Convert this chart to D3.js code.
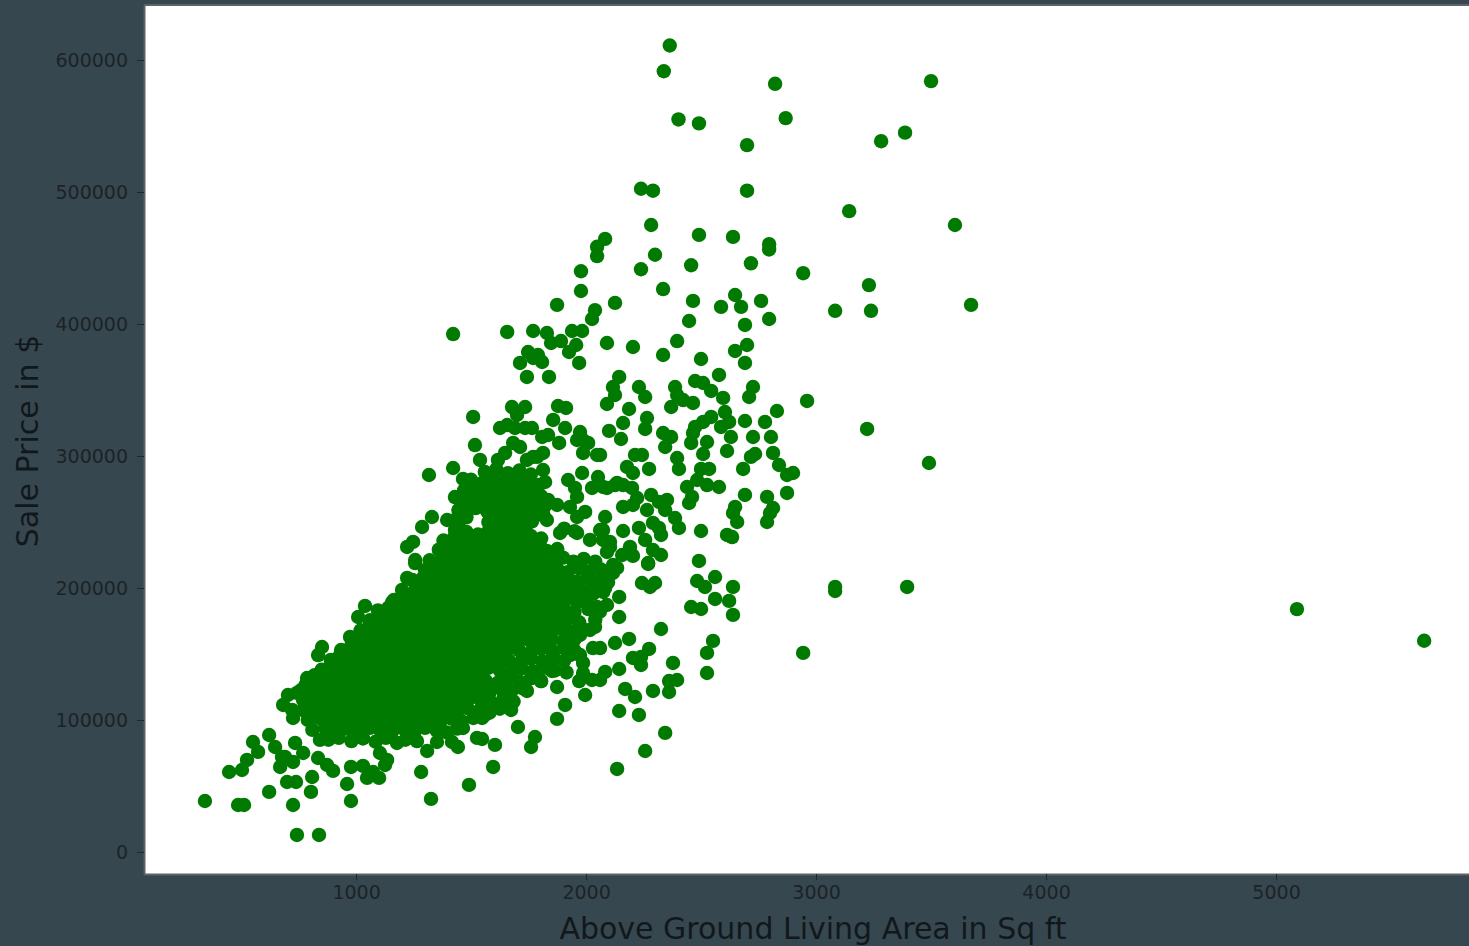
<!DOCTYPE html>
<html>
<head>
<meta charset="utf-8">
<script src="https://cdnjs.cloudflare.com/ajax/libs/d3/7.8.5/d3.min.js"></script>
<style>
    html, body { margin: 0; padding: 0; background: #37474f; overflow: hidden; }
    svg { display: block; }
</style>
</head>
<body>
<svg id="chart" width="1469" height="946"></svg>
<script>
const xTicks = [1000, 2000, 3000, 4000, 5000];
const yTicks = [0, 100000, 200000, 300000, 400000, 500000, 600000];

// [living area, sale price], grouped by region
const topPoints = [[2364,611000],[2338,591500],[3500,584000],[2822,582000],[2868,556000],[2402,555000],[2491,552000],[3387,545000],[3283,538500],[2700,535500],[2239,502500],[2291,501000],[2700,501000],[3144,485500],[2283,475000],[3604,475000],[2083,464500],[2048,458500],[2048,451500],[2491,467500],[2639,466000],[2796,460500],[2796,456500],[2300,452500],[2717,446000],[2457,444500],[2239,441500],[1978,440000],[2944,438500],[3230,429500],[1978,425000],[2335,426500],[1874,414500],[2126,416000],[2465,417500],[2648,422000],[2761,417500],[2587,413000],[2674,413000],[3674,414500],[3083,410000],[3239,410000]];

const farPoints = [[5091,184000],[5644,160000],[3083,200800],[3083,197700],[3396,200800],[3222,320500],[3491,294700],[2944,150800]];

const upperBand = [[2039,410500],[2026,403800],[2448,402300],[1422,392400],[1657,394000],[1770,394700],[1830,393200],[1848,385600],[1891,387100],[1939,394700],[1983,394700],[1957,384100],[1926,378800],[1970,370500],[2091,385600],[2204,382600],[2335,376500],[2396,387100],[2500,373500],[2691,399300],[2796,403800],[2700,384100],[2648,379600],[2691,370500],[1748,378800],[1713,370500],[1770,374300],[1809,371200],[1743,359900],[1839,359900],[1791,376500],[2578,361400],[2144,359900],[2117,352300],[2126,346200],[2091,339400],[2230,352300],[2257,344700],[2187,335600],[2387,352300],[2396,346200],[2370,337100],[2422,342400],[2465,340200],[2474,356800],[2509,355300],[2544,349300],[2596,344000],[2726,352300],[2709,344700],[2830,334100],[2961,341700]];

const midRight = [[2604,333300],[2622,325800],[2587,322000],[2544,329600],[2509,325800],[2474,322000],[2465,317400],[2457,309900],[2526,310600],[2509,301500],[2630,314400],[2613,303800],[2691,326500],[2778,325800],[2726,314400],[2804,314400],[2813,302300],[2735,301500],[2717,299300],[2839,293200],[2683,290200],[2900,287100],[2874,285600],[2874,272000],[2691,270500],[2787,269000],[2813,260600],[2800,256800],[2787,250000],[2648,261400],[2639,256800],[2657,250000],[2613,240200],[2635,238600],[2500,243200],[2491,220500],[2161,325000],[2100,319000],[2152,312900],[2265,328800],[2257,320500],[2335,317400],[2370,314400],[2344,306800],[2396,298500],[2404,290200],[2061,300800],[2213,300800],[2243,300800],[2178,291700],[2204,287100],[2274,290200],[2500,290200],[2535,290200],[2439,276500],[2483,281800],[2526,278000],[2578,276500],[2461,269000],[2448,264400],[2126,278000],[2074,276500],[2161,278000],[2200,275800],[2222,268200],[2161,261400],[2204,262900],[2265,259100],[2283,270500],[2317,265200],[2352,266700],[2344,259100],[2387,253000],[2404,245500],[2291,249300],[2317,245500],[2326,240200],[2161,243200],[2230,245500],[2257,236400],[2291,228800],[2326,225000],[2270,218900],[2187,227300],[2157,225000],[2204,224300],[2083,253800],[2104,234900],[2091,227300],[2074,243900],[2117,217400],[2200,225000],[2191,231100]];

const lowerRight = [[2561,208300],[2483,205300],[2517,200800],[2639,200800],[2561,191700],[2622,190200],[2457,185600],[2500,184100],[2639,179600],[2552,159900],[2526,150800],[2526,135600],[2326,168900],[2187,161400],[2126,158300],[2274,153800],[2204,147000],[2239,147700],[2239,141700],[2378,143200],[2144,138600],[2083,136400],[2170,123500],[2213,117400],[2291,122000],[2361,129500],[2396,130300],[2361,121200],[2144,106800],[2230,103800],[2344,90200],[2257,76500],[2135,62900],[1996,118900],[1909,111400],[1874,100800],[1704,94700],[1778,87100],[1761,79500],[1604,81100],[1596,64400],[1548,85600],[1674,107600],[1561,103800],[1874,125000],[1743,122000],[1804,129500],[1852,137100],[1970,129500],[2026,130300],[2061,130300],[1987,135600],[1987,143200],[2030,154500],[2061,154500],[1930,149200],[1974,149200],[1922,162100],[1974,164400],[2039,170500],[2017,168200],[2144,178000],[2144,193200],[2091,187100],[2048,185600],[2030,195500],[2000,189400],[1952,190900],[1874,178000],[1930,178000],[1830,169700],[1843,155300],[1852,147000],[2243,203800],[2278,200800],[2300,203800],[2270,218200],[2096,204500],[2083,200000],[2117,211400],[2135,215200]];

const lowTail = [[343,38600],[487,35600],[513,35600],[448,60600],[504,62100],[526,69700],[574,75800],[552,83300],[622,88600],[648,79500],[670,64400],[691,72000],[726,68200],[622,45500],[700,53000],[739,53000],[804,45500],[809,56800],[726,35600],[743,12900],[839,12900],[961,51500],[978,38600],[978,64400],[1030,65200],[1048,56100],[1100,56100],[1074,60600],[1126,65900],[1104,75000],[1178,82600],[1135,69700],[1283,60600],[1326,40200],[1491,50800],[1526,86400],[1443,79500],[1417,83300],[1309,76500],[1352,83300],[1235,92400],[1465,93900],[1548,101500],[1561,105300],[900,61400],[874,65900],[835,71200],[678,72000],[735,82600],[770,75000],[843,84900],[726,101500],[722,107600],[683,111400],[704,118900],[743,120500],[787,131800],[852,155300],[835,149200],[974,162900],[1009,178000],[1039,186400],[1157,189400],[1222,207600],[1257,218900]];

const coreEdge = [[1317,285600],[1422,290900],[1465,282600],[1517,308300],[1539,297000],[1430,268900],[1496,260600],[1330,253800],[1396,251500],[1287,246200],[1248,234900],[1222,231100],[1257,221200],[1400,230300],[1509,329600],[1678,337100],[1735,337100],[1700,331100],[1878,337900],[1913,336400],[1857,327300],[1909,321200],[1626,321200],[1657,323500],[1691,321200],[1735,321200],[1765,321200],[1683,309900],[1713,306800],[1809,314400],[1835,315900],[1883,309900],[1813,302300],[1770,299300],[1743,297000],[1648,302300],[1617,297000],[1974,318200],[1987,312100],[2009,309900],[1987,302300],[2048,300800],[1961,312100],[1983,287100],[1922,281800],[2052,284100],[2026,275800],[2091,275800],[2135,279600],[1952,275800],[1961,269000],[1930,261400],[1996,257600],[1961,253800],[2061,243900],[1822,280300],[1813,289400],[1787,299300],[1835,266700],[1874,262900],[1813,256800],[1830,251500],[1887,241700],[1961,241700],[2017,236400],[2074,236400],[2104,231100]];

const coreTop = [[1560,288000],[1610,290000],[1660,287000],[1710,289000],[1760,286000],[1590,278000],[1640,278500],[1690,277500],[1745,275500],[1795,278000],[1500,271000],[1550,270000],[1600,270500],[1650,271500],[1700,270000],[1750,270500],[1805,269500],[1480,262500],[1520,263000],[1570,263500],[1620,262500],[1665,263000],[1715,262500],[1765,263000],[1820,262000],[1450,255000],[1600,255000],[1645,255500],[1695,254500],[1745,255000],[1790,255500],[1445,248000],[1600,247500],[1650,247000],[1695,248000],[1740,247500]];

const coreUpper = [[1500,282000],[1548,279500],[1600,284000],[1650,281000],[1700,283500],[1745,280000],[1470,274000],[1525,276000],[1570,272500],[1625,275000],[1672,273500],[1720,276500],[1770,272000],[1450,267000],[1495,265000],[1545,268500],[1590,266000],[1640,269000],[1690,265500],[1735,267500],[1785,264500],[1445,259000],[1470,257500],[1520,260500],[1570,258000],[1615,260000],[1665,257000],[1710,259500],[1760,256500],[1800,260000],[1430,251500],[1480,253500],[1575,250000],[1625,252000],[1670,249500],[1720,253000],[1765,250500],[1430,244000],[1480,242500],[1575,243000],[1620,246000],[1670,242000],[1715,244500],[1905,245000],[1950,243000],[1380,236000],[1425,238000],[1470,234500],[1520,237000],[1570,235000],[1615,238500],[1665,234000],[1710,236500],[1760,235000],[1805,237500],[1360,229000],[1400,227000],[1450,230500],[1495,228000],[1545,226500],[1590,230000],[1640,227500],[1690,229500],[1735,226000],[1785,230000],[1830,228000],[1875,229500],[1320,221000],[1375,223000],[1420,219500],[1470,222000],[1520,220000],[1565,223000],[1615,219000],[1660,221500],[1710,220000],[1755,222500],[1805,219500],[1850,221000],[1900,223000],[1945,220000],[1990,222000],[2040,220000]];

const coreMiddle = [[1300,213500],[1350,215000],[1395,212000],[1445,214500],[1490,212500],[1540,215000],[1585,211500],[1635,214000],[1680,212000],[1730,215000],[1780,213000],[1825,211500],[1875,214500],[1920,212000],[1970,215000],[2015,212500],[2065,214000],[1245,206000],[1290,207500],[1340,205000],[1385,207000],[1435,204500],[1480,206500],[1530,205000],[1575,208000],[1625,204000],[1670,206000],[1720,207500],[1770,205000],[1815,207000],[1865,204500],[1910,206500],[1960,205000],[2005,207500],[2050,205000],[2085,207000],[1200,198500],[1260,200000],[1310,197000],[1360,199500],[1405,197500],[1455,200000],[1500,196500],[1550,199000],[1600,197000],[1645,200000],[1695,198000],[1740,200000],[1790,196500],[1835,199000],[1885,197500],[1930,200000],[1980,198000],[2025,199500],[2075,197000],[1165,191000],[1215,192500],[1265,190000],[1310,192000],[1360,189500],[1410,191500],[1455,190000],[1505,192500],[1550,189000],[1600,191000],[1650,192500],[1695,190000],[1745,192000],[1790,189500],[1840,191500],[1890,190000],[1935,192500],[1985,190000],[1095,183000],[1140,185000],[1190,182000],[1240,184500],[1285,182500],[1335,185000],[1385,181500],[1430,184000],[1480,182000],[1525,185000],[1575,183000],[1625,181500],[1670,184500],[1720,182000],[1770,185000],[1815,183000],[1865,181500],[1905,184000],[1950,182000],[2010,184000],[2060,182000],[1060,175500],[1100,177000],[1150,174500],[1200,176500],[1245,174000],[1295,177000],[1345,175000],[1390,173500],[1440,176500],[1490,174000],[1535,177000],[1585,175000],[1630,173500],[1680,176500],[1730,174000],[1775,177000],[1825,175000],[1870,173500],[1920,176500],[1970,174000],[2040,176000],[1020,168000],[1070,169500],[1120,167000],[1165,169000],[1215,166500],[1265,169500],[1310,167500],[1360,166000],[1410,169000],[1455,167000],[1505,169500],[1555,167500],[1600,166000],[1650,169000],[1695,167000],[1745,169500],[1795,167500],[1840,166000],[1890,169000],[1935,167000],[1985,169000]];

const coreLower = [[985,160500],[1030,162000],[1080,159000],[1130,161500],[1175,159500],[1225,162000],[1275,160000],[1320,158500],[1370,161500],[1420,159500],[1465,162000],[1515,160000],[1560,158500],[1610,161500],[1660,159500],[1705,162000],[1755,160000],[1800,158500],[1850,161500],[1900,159500],[1950,161000],[935,153000],[985,154500],[1035,152000],[1085,154000],[1130,151500],[1180,154500],[1230,152500],[1275,151000],[1325,154000],[1375,152000],[1420,154500],[1470,152500],[1520,151000],[1565,154000],[1615,152000],[1665,154500],[1710,152500],[1760,151000],[1805,154000],[1855,152000],[1905,154500],[1950,152500],[890,145500],[945,147000],[990,144500],[1040,146500],[1090,144000],[1135,147000],[1185,145000],[1235,143500],[1280,146500],[1330,144500],[1380,147000],[1425,145000],[1475,143500],[1520,146500],[1570,144500],[1620,147000],[1665,145000],[1715,143500],[1760,146500],[1810,144500],[1860,147000],[1905,145000],[850,138000],[900,139500],[950,137000],[1000,139000],[1045,136500],[1095,139500],[1145,137500],[1190,136000],[1240,139000],[1290,137000],[1335,139500],[1385,137500],[1430,136000],[1480,139000],[1530,137000],[1575,139500],[1625,137500],[1675,136000],[1720,139000],[1770,137000],[1815,139500],[1865,137500],[1915,136000],[790,130000],[840,131500],[890,129000],[940,131000],[985,128500],[1035,131500],[1085,129500],[1130,128000],[1180,131000],[1230,129000],[1275,131500],[1325,129500],[1375,128000],[1420,131000],[1470,129000],[1520,131500],[1565,129500],[1615,128000],[1660,131000],[1710,129000],[1760,131500],[1805,129500],[760,122500],[810,124000],[855,121500],[905,123500],[955,121000],[1000,124000],[1050,122000],[1100,120500],[1145,123500],[1195,121500],[1245,124000],[1290,122000],[1340,120500],[1385,123500],[1435,121500],[1485,124000],[1530,122000],[1580,120500],[1630,123500],[1675,121500],[1725,124000],[770,115000],[820,116500],[870,114000],[915,116000],[965,113500],[1015,116500],[1060,114500],[1110,113000],[1160,116000],[1205,114000],[1255,116500],[1300,114500],[1350,113000],[1400,116000],[1445,114000],[1495,116500],[1545,114500],[1590,113000],[1640,116000],[1685,114000],[770,107500],[810,109000],[860,106500],[910,108500],[955,106000],[1005,109000],[1055,107000],[1100,105500],[1150,108500],[1195,106500],[1245,109000],[1295,107000],[1340,105500],[1390,108500],[1440,106500],[1485,109000],[1535,107000],[1580,105500],[1625,108500],[790,100000],[840,101500],[880,99000],[930,101000],[980,98500],[1025,101500],[1075,99500],[1125,98000],[1170,101000],[1220,99000],[1270,101500],[1315,99500],[1365,98000],[1415,101000],[1460,99000],[1510,101500],[810,92500],[865,94000],[915,91500],[960,93500],[1010,91000],[1060,94000],[1105,92000],[1155,90500],[1205,93500],[1255,91500],[1300,94000],[1350,92000],[1395,90500],[1440,93500],[880,85000],[925,86500],[980,84000],[1030,86000],[1085,83500],[1130,86500],[1215,85000],[1265,84000]];

// sales packed into the solid part of the cloud
const solidUpper = [[1480,240000],[1530,240500],[1575,239500],[1625,240000],[1670,241000],[1715,240000],[1760,239500],[1420,232500],[1470,233000],[1515,232000],[1565,232500],[1610,233000],[1660,232000],[1705,232500],[1755,233000],[1800,232000],[1400,225000],[1445,225500],[1495,224500],[1540,225000],[1590,225500],[1640,224500],[1685,225000],[1735,225500],[1780,224500],[1830,225000],[1370,217500],[1415,217000],[1465,218000],[1510,217500],[1560,217000],[1610,218000],[1655,217500],[1705,217000],[1750,218000],[1800,217500],[1850,217000],[1330,210000],[1375,209500],[1425,210500],[1470,210000],[1520,209500],[1565,210500],[1615,210000],[1665,209500],[1710,210500],[1760,210000],[1805,209500],[1855,210500],[1290,202500],[1335,202000],[1385,203000],[1430,202500],[1480,202000],[1525,203000],[1575,202500],[1625,202000],[1670,203000],[1720,202500],[1765,202000],[1815,203000],[1860,202500],[1240,194500],[1290,195000],[1335,194500],[1385,194000],[1435,195000],[1480,194500],[1530,194000],[1575,195000],[1625,194500],[1670,194000],[1720,195000],[1770,194500],[1815,194000],[1865,195000],[1180,187000],[1230,187500],[1280,186500],[1325,187000],[1375,187500],[1420,186500],[1470,187000],[1520,187500],[1565,186500],[1615,187000],[1660,187500],[1710,186500],[1755,187000],[1805,187500],[1855,186500],[1110,179500],[1155,180000],[1205,179000],[1255,179500],[1300,180000],[1350,179000],[1400,179500],[1445,180000],[1495,179000],[1540,179500],[1590,180000],[1640,179000],[1685,179500],[1735,180000],[1780,179000],[1830,179500]];

const solidLower = [[1060,172000],[1105,172500],[1155,171500],[1205,172000],[1250,172500],[1300,171500],[1345,172000],[1395,172500],[1445,171500],[1490,172000],[1540,172500],[1585,171500],[1635,172000],[1685,172500],[1730,171500],[1780,172000],[1020,164500],[1065,165000],[1115,164000],[1160,164500],[1210,165000],[1260,164000],[1305,164500],[1355,165000],[1400,164000],[1450,164500],[1500,165000],[1545,164000],[1595,164500],[1640,165000],[1690,164000],[1740,164500],[980,157000],[1025,157500],[1075,156500],[1120,157000],[1170,157500],[1220,156500],[1265,157000],[1315,157500],[1365,156500],[1410,157000],[1460,157500],[1505,156500],[1555,157000],[1605,157500],[1650,156500],[1700,157000],[930,149000],[980,149500],[1030,148500],[1075,149000],[1125,149500],[1170,148500],[1220,149000],[1270,149500],[1315,148500],[1365,149000],[1410,149500],[1460,148500],[1510,149000],[1555,149500],[1605,148500],[1650,149000],[890,141500],[935,142000],[985,141000],[1030,141500],[1080,142000],[1130,141000],[1175,141500],[1225,142000],[1270,141000],[1320,141500],[1370,142000],[1415,141000],[1465,141500],[1510,142000],[1560,141000],[1610,141500],[820,134000],[870,134500],[915,133500],[965,134000],[1015,134500],[1060,133500],[1110,134000],[1155,134500],[1205,133500],[1255,134000],[1300,134500],[1350,133500],[1395,134000],[1445,134500],[1495,133500],[1540,134000],[780,126500],[830,127000],[880,126000],[925,126500],[975,127000],[1020,126000],[1070,126500],[1120,127000],[1165,126000],[1215,126500],[1265,127000],[1310,126000],[1360,126500],[1405,127000],[1455,126000],[1505,126500],[800,119000],[845,119500],[895,118500],[940,119000],[990,119500],[1040,118500],[1085,119000],[1135,119500],[1180,118500],[1230,119000],[1280,119500],[1325,118500],[1375,119000],[1425,119500],[1470,118500],[800,111500],[850,112000],[900,111000],[945,111500],[995,112000],[1040,111000],[1090,111500],[1140,112000],[1185,111000],[1235,111500],[1280,112000],[1330,111000],[1380,111500],[1425,112000],[890,104000],[940,103500],[990,104000],[1035,104500],[1085,103500],[1130,104000],[1180,104500],[1230,103500],[1275,104000],[1325,104500],[1370,103500],[940,96500],[985,95500],[1035,96000],[1080,96500],[1130,95500],[1180,96000],[1225,96500],[1275,95500],[1320,96000]];

const points = [].concat(topPoints, farPoints, upperBand, midRight, lowerRight, lowTail, coreEdge, coreTop, coreUpper, coreMiddle, coreLower, solidUpper, solidLower);

const plot = {left: 144, right: 1469, top: 5, bottom: 874};
const labelColor = '#1b2327';
const svg = d3.select('#chart');

// domains picked so 1000 sq ft lands at x=356 and $0 at y=852, as in the picture
const x = d3.scaleLinear().domain([78, 5839]).range([plot.left, plot.right]);
const y = d3.scaleLinear().domain([-16700, 641700]).range([plot.bottom, plot.top]);

svg.append('rect')
    .attr('x', plot.left)
    .attr('y', plot.top)
    .attr('width', plot.right - plot.left)
    .attr('height', plot.bottom - plot.top)
    .attr('fill', '#fff');

svg.append('g')
    .selectAll('circle')
    .data(points)
    .join('circle')
    .attr('cx', d => x(d[0]))
    .attr('cy', d => y(d[1]))
    .attr('r', 7.2)
    .attr('fill', '#017a01');

const xAxis = svg.append('g')
    .attr('transform', `translate(0,${plot.bottom})`)
    .call(d3.axisBottom(x).tickValues(xTicks).tickFormat(d3.format('d')).tickSizeInner(6).tickSizeOuter(0).tickPadding(6));

const yAxis = svg.append('g')
    .attr('transform', `translate(${plot.left},0)`)
    .call(d3.axisLeft(y).tickValues(yTicks).tickFormat(d3.format('d')).tickSizeInner(7).tickSizeOuter(0).tickPadding(9));

[xAxis, yAxis].forEach(axis => {
    axis.selectAll('.domain').attr('stroke', '#5d6468').attr('stroke-width', 2);
    axis.selectAll('.tick line').attr('stroke', '#20282c');
    axis.selectAll('text')
        .attr('fill', labelColor)
        .style('font-family', '"DejaVu Sans", sans-serif')
        .style('font-size', '19px');
});

// top spine, the right one falls outside the picture
svg.append('line')
    .attr('x1', plot.left)
    .attr('x2', plot.right)
    .attr('y1', plot.top)
    .attr('y2', plot.top)
    .attr('stroke', '#5d6468')
    .attr('stroke-width', 2);

svg.append('text')
    .attr('x', 813)
    .attr('y', 939)
    .attr('text-anchor', 'middle')
    .attr('fill', '#11181c')
    .style('font-family', '"DejaVu Sans", sans-serif')
    .style('font-size', '30px')
    .text('Above Ground Living Area in Sq ft');

svg.append('text')
    .attr('transform', 'translate(38,441) rotate(-90)')
    .attr('text-anchor', 'middle')
    .attr('fill', '#11181c')
    .style('font-family', '"DejaVu Sans", sans-serif')
    .style('font-size', '30px')
    .text('Sale Price in $');
</script>
</body>
</html>
